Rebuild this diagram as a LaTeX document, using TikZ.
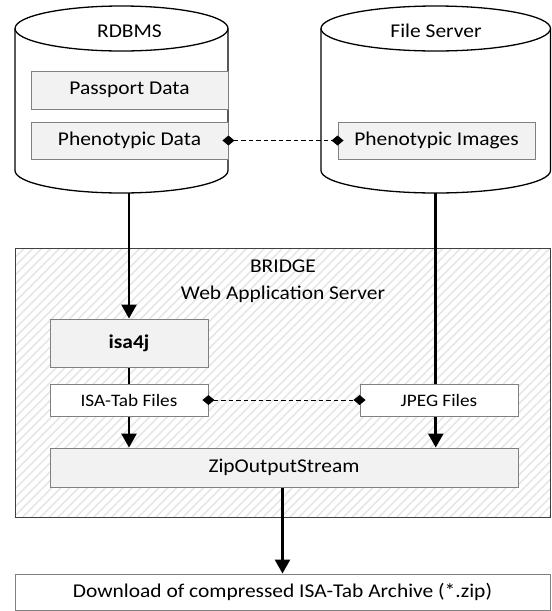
\documentclass[tikz,border=0pt]{standalone}
\usepackage{fontspec}
\setmainfont{Carlito}[FakeStretch=1.1]
\usetikzlibrary{arrows.meta,patterns.meta}
\pgfdeclarelayer{back}
\pgfdeclarelayer{mid}
\pgfsetlayers{back,mid,main}
\definecolor{boxfill}{HTML}{F2F2F2}
\definecolor{boxline}{HTML}{808080}
\definecolor{hatch}{HTML}{E6E6E6}
\newcommand\mainsz{\fontsize{19.5}{27}\selectfont}
\newcommand\smallsz{\fontsize{17.5}{21}\selectfont}
\tikzset{
  graybox/.style={draw=boxline, fill=boxfill, line width=0.9pt, inner sep=0pt, font=\mainsz},
  whitebox/.style={draw=boxline, fill=white, line width=0.9pt, inner sep=0pt, font=\mainsz},
  cyl/.style={draw=black, line width=1.3pt},
  cylarea/.style={inner sep=0pt, minimum height=187pt},
  flow/.style={line width=2.6pt, -{Triangle[width=15pt,length=14pt]}},
  link/.style={line width=0.9pt, dash pattern=on 4.5pt off 3pt,
    {Diamond[width=10pt,length=12pt]}-{Diamond[width=10pt,length=12pt]},
    shorten <=-6pt, shorten >=-6pt},
  bridgebox/.style={draw=black!75, line width=1pt, inner sep=0pt,
    pattern={Lines[angle=45,distance=6.3pt,line width=1.6pt]}, pattern color=hatch},
  label/.style={inner sep=0pt, font=\mainsz, align=center}
}
\begin{document}
\begin{tikzpicture}[x=1pt,y=-1pt]
\useasboundingbox (0,0) rectangle (552,611);

% cylinders
\node[cylarea, minimum width=213pt] (rdbms) at (121.5,99.5) {};
\node[cylarea, minimum width=229.5pt] (fs) at (435.75,99.5) {};
\draw[cyl] (121.5,28.5) ellipse [x radius=106.5pt, y radius=22.5pt];
\draw[cyl] (15,28.5) -- (15,170.5) arc[start angle=180, end angle=360, x radius=106.5pt, y radius=22.5pt] -- (228,28.5);
\draw[cyl] (435.75,28.5) ellipse [x radius=114.75pt, y radius=22.5pt];
\draw[cyl] (321,28.5) -- (321,170.5) arc[start angle=180, end angle=360, x radius=114.75pt, y radius=22.5pt] -- (550.5,28.5);
\node[label] (rdbmslbl) at (129.5,31) {RDBMS};
\node[label] (fslbl) at (436,31) {File Server};

\node[graybox, minimum width=197pt, minimum height=38pt] (pass) at (129.5,90) {Passport Data};
\node[graybox, minimum width=197pt, minimum height=37pt] (phd) at (129.5,140.5) {Phenotypic Data};
\node[graybox, minimum width=197pt, minimum height=37pt] (phi) at (436.5,140.5) {Phenotypic Images};
\draw[link] (phd.east) -- (phi.west);

% bridge
\begin{pgfonlayer}{back}
\node[bridgebox, minimum width=535pt, minimum height=269pt] (bridge) at (282.5,382.5) {};
\end{pgfonlayer}
\node[label] (bridgelbl) at (283,281.5) {BRIDGE\\Web Application Server};

\node[graybox, minimum width=158pt, minimum height=48pt, font=\mainsz\bfseries] (isa) at (129,343) {isa4j};
\node[whitebox, minimum width=158pt, minimum height=32pt, font=\smallsz] (isatab) at (129,400) {ISA-Tab Files};
\node[whitebox, minimum width=158pt, minimum height=32pt, font=\smallsz] (jpeg) at (439,400) {JPEG Files};
\node[graybox, minimum width=468pt, minimum height=39pt] (zip) at (284,467.5) {ZipOutputStream};
\node[whitebox, minimum width=535pt, minimum height=36pt] (dl) at (282.5,592) {Download of compressed ISA-Tab Archive (*.zip)};

\draw[link] (isatab.east) -- (jpeg.west);

\begin{pgfonlayer}{mid}
\draw[flow] (isa.north |- rdbms.south) -- (isa.north);
\draw[flow] (isa.south) -- (isa.south |- zip.north);
\draw[flow] (fs.south) -- (fs.south |- zip.north);
\draw[flow] (zip.south -| dl.north) -- (dl.north);
\end{pgfonlayer}
\end{tikzpicture}
\end{document}
